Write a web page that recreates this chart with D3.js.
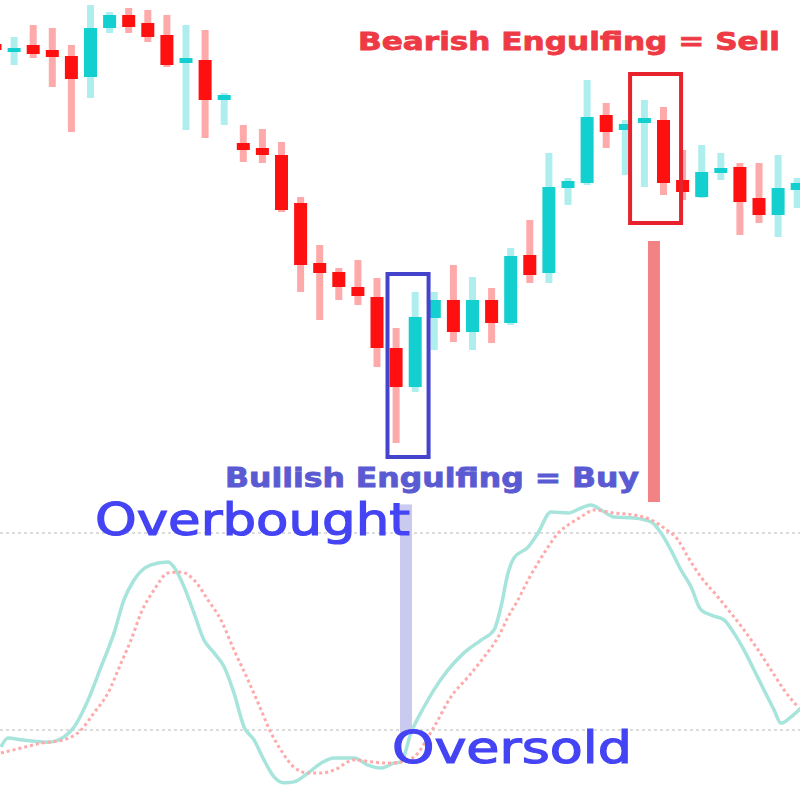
<!DOCTYPE html>
<html><head><meta charset="utf-8">
<script src="https://cdn.jsdelivr.net/npm/d3@7"></script>
<style>html,body{margin:0;padding:0;background:#fff;}svg{display:block;}</style>
</head><body>
<svg id="chart" width="800" height="800"></svg>
<script>
// ---- Candlestick data (price units) ----
const openP  = [145.6,144.8,145.5,145.0,144.4,142.3,147.2,148.5,147.7,146.5,143.7,144.0,140.0,135.7,135.2,134.5,129.7,123.7,122.8,121.3,120.3,115.2,111.3,118.2,120.0,116.8,120.0,117.7,124.5,122.7,131.2,131.7,138.5,137.0,137.7,138.0,132.0,130.3,132.7,133.3,130.2,128.5,131.0];
const highP  = [146.0,146.3,147.5,147.2,145.5,149.5,148.8,149.2,149.0,148.5,147.5,147.0,140.7,137.5,137.1,135.8,130.3,125.5,123.2,124.0,122.2,117.2,120.8,120.8,123.5,122.3,121.2,125.2,128.0,134.7,132.2,142.0,139.7,138.0,140.0,139.3,135.0,135.5,134.7,133.7,133.7,134.5,132.2];
const lowP   = [144.7,143.5,144.2,141.3,136.8,140.2,146.7,146.7,145.8,143.3,137.0,136.2,137.5,133.8,133.7,128.8,120.8,118.0,120.0,119.5,113.3,105.7,110.8,115.0,115.8,115.0,115.7,117.5,121.7,121.7,129.5,131.5,135.2,132.5,131.3,130.5,130.0,130.2,132.0,126.5,127.7,126.3,129.2];
const closeP = [145.0,145.2,144.6,144.3,142.1,147.2,148.5,147.3,146.3,143.5,144.2,140.0,140.5,135.0,134.5,129.0,123.5,122.7,121.3,120.4,115.2,111.3,118.3,120.0,116.8,120.0,117.7,124.4,122.5,131.3,131.9,138.3,136.8,137.6,138.2,131.7,130.8,132.8,133.2,129.8,128.5,131.2,131.7];

// ---- Stochastic oscillator: [bar position, value] ----
const kLine = [[0.31,14.8],[0.68,17.6],[1.36,17.0],[2.77,16.3],[3.61,17.9],[4.14,20.9],[4.87,29.1],[5.55,39.2],[6.23,49.5],[6.75,59.6],[7.28,65.7],[8.17,70.3],[9.06,71.2],[9.37,69.6],[9.90,63.6],[10.42,55.6],[10.94,47.4],[11.47,43.5],[12.0,39.2],[12.51,31.3],[13.04,20.9],[13.56,17.0],[14.08,10.9],[14.61,5.7],[15.13,3.9],[15.65,4.2],[16.39,6.9],[17.07,9.9],[17.75,11.5],[18.80,11.5],[19.53,9.3],[20.21,8.4],[20.89,9.9],[21.26,10.3],[21.78,19.1],[22.46,27.0],[22.98,32.2],[23.72,38.3],[24.55,43.5],[25.45,47.4],[26.13,50.5],[26.49,57.5],[26.86,67.8],[27.17,72.4],[27.91,75.7],[28.43,80.0],[29.11,86.4],[30.0,86.1],[30.68,87.6],[31.20,88.5],[31.73,87.0],[32.41,84.9],[33.46,84.6],[34.35,83.4],[34.87,80.0],[35.39,74.8],[35.92,68.7],[36.44,63.6],[36.96,56.6],[37.49,55.0],[38.17,53.5],[38.69,49.5],[39.21,44.4],[39.74,38.3],[40.26,32.2],[40.79,26.1],[41.15,22.1],[41.68,24.0],[42.20,26.7]];
const dLine = [[0.31,13.0],[1.36,14.5],[2.41,16.0],[3.61,17.0],[4.50,20.0],[5.18,25.2],[5.92,31.3],[6.60,40.4],[7.12,47.4],[7.64,55.6],[8.32,62.6],[9.06,67.8],[9.74,68.1],[10.42,65.7],[11.15,59.6],[11.83,53.5],[12.51,44.4],[13.25,35.2],[13.93,26.1],[14.45,19.1],[14.97,13.9],[15.65,8.7],[16.39,6.9],[17.07,6.9],[17.75,7.8],[18.80,10.9],[19.69,10.3],[20.58,9.9],[21.26,10.3],[21.94,11.8],[22.98,20.9],[23.87,30.1],[24.76,36.1],[25.60,42.2],[26.34,48.3],[26.86,54.4],[27.38,59.6],[27.91,65.7],[28.43,70.9],[28.95,75.7],[29.48,80.0],[30.0,82.4],[30.68,84.9],[31.36,87.0],[32.41,86.1],[33.46,85.5],[34.35,84.0],[35.03,81.5],[35.76,77.9],[36.28,72.7],[36.96,66.6],[37.85,60.5],[38.53,55.6],[39.21,50.5],[39.95,44.4],[40.63,38.3],[41.31,32.2],[42.04,27.0]];
const levels = [80, 20];
const levelLabels = ["Overbought", "Oversold"];

// ---- Annotations ----
const buyBox  = {from: 20.55, to: 22.7, top: 122.6, bottom: 104.3};
const sellBox = {from: 33.25, to: 35.92, top: 142.6, bottom: 127.7};
const buyMarker  = {at: 21.52, fromOsc: 88.7, toOsc: 19.1};
const sellMarker = {at: 34.5, fromPrice: 125.9, toPrice: 99.8};
const annotationTexts = ["Bearish Engulfing = Sell", "Bullish Engulfing = Buy"];

// ---- Scales ----
const x = d3.scaleLinear().domain([0, 42]).range([-5, -5 + 19.1 * 42]);
const yP = d3.scaleLinear().domain([100, 150]).range([500, 0]);
const yO = d3.scaleLinear().domain([20, 80]).range([730, 533]);

const svg = d3.select("#chart");
const bull = {body: "#14cfcf", wick: "#aeeeee"};
const bear = {body: "#ff1010", wick: "#ffaaaa"};

// level lines
svg.append("g").selectAll("line").data(levels).join("line")
  .attr("x1", 0).attr("x2", 800)
  .attr("y1", d => yO(d)).attr("y2", d => yO(d))
  .attr("stroke", "#dcdcdc").attr("stroke-width", 2).attr("stroke-dasharray", "3,3");

// oscillator lines
const line = d3.line().x(d => x(d[0])).y(d => yO(d[1])).curve(d3.curveMonotoneX);
svg.append("path").datum(kLine).attr("d", line)
  .attr("fill", "none").attr("stroke", "#a6e4dc").attr("stroke-width", 3.5);
svg.append("path").datum(dLine).attr("d", line)
  .attr("fill", "none").attr("stroke", "#ffaaaa").attr("stroke-width", 3).attr("stroke-dasharray", "3,3");

// candles
const idx = d3.range(openP.length);
const cg = svg.append("g");
cg.selectAll("rect.wick").data(idx).join("rect").attr("class", "wick")
  .attr("x", i => x(i) - 3.5).attr("width", 7)
  .attr("y", i => yP(highP[i])).attr("height", i => yP(lowP[i]) - yP(highP[i]))
  .attr("fill", i => closeP[i] >= openP[i] ? bull.wick : bear.wick);
cg.selectAll("rect.body").data(idx).join("rect").attr("class", "body")
  .attr("x", i => x(i) - 6.5).attr("width", 13)
  .attr("y", i => yP(Math.max(openP[i], closeP[i])))
  .attr("height", i => Math.max(4, Math.abs(yP(openP[i]) - yP(closeP[i]))))
  .attr("fill", i => closeP[i] >= openP[i] ? bull.body : bear.body);

// boxes
svg.append("rect")
  .attr("x", x(buyBox.from)).attr("y", yP(buyBox.top))
  .attr("width", x(buyBox.to) - x(buyBox.from)).attr("height", yP(buyBox.bottom) - yP(buyBox.top))
  .attr("fill", "none").attr("stroke", "#4343cc").attr("stroke-width", 4);
svg.append("rect")
  .attr("x", x(sellBox.from)).attr("y", yP(sellBox.top))
  .attr("width", x(sellBox.to) - x(sellBox.from)).attr("height", yP(sellBox.bottom) - yP(sellBox.top))
  .attr("fill", "none").attr("stroke", "#e8222c").attr("stroke-width", 4);

// markers
svg.append("rect")
  .attr("x", x(sellMarker.at) - 6).attr("width", 12)
  .attr("y", yP(sellMarker.fromPrice)).attr("height", yP(sellMarker.toPrice) - yP(sellMarker.fromPrice))
  .attr("fill", "#f28284");
svg.append("rect")
  .attr("x", x(buyMarker.at) - 6).attr("width", 12)
  .attr("y", yO(buyMarker.fromOsc)).attr("height", yO(buyMarker.toOsc) - yO(buyMarker.fromOsc))
  .attr("fill", "#cacaf0");

// texts
svg.append("text").text(annotationTexts[0])
  .attr("x", 358).attr("y", 50).attr("textLength", 422).attr("lengthAdjust", "spacingAndGlyphs")
  .attr("font-family", "DejaVu Sans").attr("font-weight", "bold").attr("font-size", 25)
  .attr("fill", "#ee3a44").attr("stroke", "#ee3a44").attr("stroke-width", 0.8);
svg.append("text").text(annotationTexts[1])
  .attr("x", 225).attr("y", 487).attr("textLength", 414).attr("lengthAdjust", "spacingAndGlyphs")
  .attr("font-family", "DejaVu Sans").attr("font-weight", "bold").attr("font-size", 26)
  .attr("fill", "#5a5ad2").attr("stroke", "#5a5ad2").attr("stroke-width", 0.8);
svg.append("text").text(levelLabels[0])
  .attr("x", 95).attr("y", 535).attr("textLength", 315).attr("lengthAdjust", "spacingAndGlyphs")
  .attr("font-family", "DejaVu Sans").attr("font-size", 44)
  .attr("fill", "#4444f4").attr("stroke", "#4444f4").attr("stroke-width", 1.2);
svg.append("text").text(levelLabels[1])
  .attr("x", 392).attr("y", 763).attr("textLength", 240).attr("lengthAdjust", "spacingAndGlyphs")
  .attr("font-family", "DejaVu Sans").attr("font-size", 44)
  .attr("fill", "#4444f4").attr("stroke", "#4444f4").attr("stroke-width", 1.2);
</script>
</body></html>
